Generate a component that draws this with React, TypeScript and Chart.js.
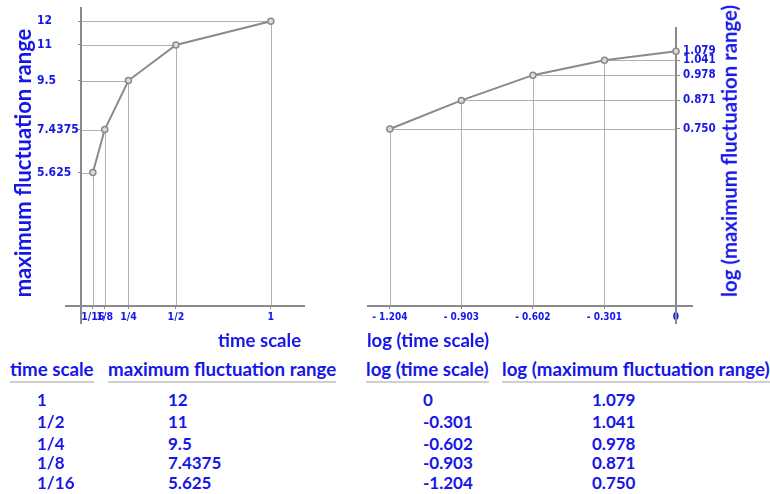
import React, { useEffect, useRef } from 'react';
import { Chart, registerables } from 'chart.js';
Chart.register(...registerables);

const timeScaleLabels = ['1', '1/2', '1/4', '1/8', '1/16'];
const timeScaleValues = [1, 0.5, 0.25, 0.125, 0.0625];
const maxRangeValues = [12, 11, 9.5, 7.4375, 5.625];
const maxRangeLabels = ['12', '11', '9.5', '7.4375', '5.625'];
const logTimeValues = [0, -0.301, -0.602, -0.903, -1.204];
const logTimeLabels = ['0', '-0.301', '-0.602', '-0.903', '-1.204'];
const logRangeValues = [1.079, 1.041, 0.978, 0.871, 0.75];
const logRangeLabels = ['1.079', '1.041', '0.978', '0.871', '0.750'];
const tableHeaders = ['time scale', 'maximum fluctuation range', 'log (time scale)', 'log (maximum fluctuation range)'];
const tableColumns = [timeScaleLabels, maxRangeLabels, logTimeLabels, logRangeLabels];

const BLUE = '#1616e8';
const TEXT_FONT = 'Lato, "Open Sans", sans-serif';
const TICK_FONT = '"DejaVu Sans Condensed", "Liberation Sans", sans-serif';

function makeDecor(id: string, side: 'left' | 'right') {
  return {
    id,
    beforeDatasetsDraw(chart: any) {
      const { ctx, scales, chartArea } = chart;
      const xs = scales.x, ys = scales.y;
      const x0 = Math.round(xs.getPixelForValue(0));
      const y0 = Math.round(ys.getPixelForValue(0));
      ctx.save();
      ctx.strokeStyle = '#b0b0b0';
      ctx.lineWidth = 1;
      chart.data.datasets[0].data.forEach((p: any) => {
        const px = Math.round(xs.getPixelForValue(p.x)) + 0.5;
        const py = Math.round(ys.getPixelForValue(p.y)) + 0.5;
        ctx.beginPath();
        ctx.moveTo(x0, py);
        ctx.lineTo(px, py);
        ctx.moveTo(px, py);
        ctx.lineTo(px, y0);
        ctx.stroke();
      });
      ctx.strokeStyle = '#8a8a8a';
      ctx.lineWidth = 2;
      ctx.beginPath();
      ctx.moveTo(x0, chartArea.top);
      ctx.lineTo(x0, y0 + 18);
      if (side === 'left') {
        ctx.moveTo(x0 - 16, y0);
        ctx.lineTo(chartArea.right, y0);
      } else {
        ctx.moveTo(chartArea.left, y0);
        ctx.lineTo(x0 + 17, y0);
      }
      ctx.stroke();
      ctx.restore();
    },
  };
}

const fixX = (h: number) => (s: any) => { s.height = h; s.paddingLeft = 0; s.paddingRight = 0; };
const fixY = (w: number) => (s: any) => { s.width = w; s.paddingTop = 0; s.paddingBottom = 0; };

const datasetStyle = {
  showLine: true,
  borderColor: '#8a8a8a',
  borderWidth: 2,
  pointRadius: 3,
  pointBorderWidth: 1.5,
  pointBorderColor: '#8a8a8a',
  pointBackgroundColor: '#dcdcdc',
  clip: false,
};

function LeftChart() {
  const ref = useRef<HTMLCanvasElement>(null);
  useEffect(() => {
    const chart = new Chart(ref.current!, {
      type: 'scatter',
      data: {
        datasets: [{
          data: timeScaleValues.map((v, i) => ({ x: v, y: maxRangeValues[i] })),
          ...datasetStyle,
        } as any],
      },
      options: {
        animation: false,
        responsive: false,
        layout: { padding: { left: 37, top: 7, right: 55, bottom: 0 } },
        plugins: { legend: { display: false }, tooltip: { enabled: false } },
        scales: {
          x: {
            type: 'linear', min: 0, max: 1.18,
            afterBuildTicks: (s: any) => { s.ticks = timeScaleValues.map(v => ({ value: v })); },
            afterFit: fixX(39),
            ticks: {
              autoSkip: false, maxRotation: 0, minRotation: 0, padding: 2,
              color: BLUE, font: { family: TICK_FONT, size: 10.5, weight: 'bold' },
              callback: (v: any) => timeScaleLabels[timeScaleValues.indexOf(v)] ?? '',
            },
            grid: { drawOnChartArea: false, drawTicks: true, tickLength: 3, color: '#8a8a8a' },
            border: { display: false },
          },
          y: {
            type: 'linear', min: 0, max: 12.6,
            afterBuildTicks: (s: any) => { s.ticks = maxRangeValues.map(v => ({ value: v })); },
            afterFit: fixY(44),
            ticks: {
              autoSkip: false, crossAlign: 'far', padding: 4,
              color: BLUE, font: { family: TICK_FONT, size: 12, weight: 'bold' },
              callback: (v: any) => maxRangeLabels[maxRangeValues.indexOf(v)] ?? '',
            },
            grid: { drawOnChartArea: false, drawTicks: true, tickLength: 3, color: '#8a8a8a' },
            border: { display: false },
          },
        },
      } as any,
      plugins: [makeDecor('leftDecor', 'left')],
    });
    return () => chart.destroy();
  }, []);
  return <canvas ref={ref} width={360} height={345} style={{ position: 'absolute', left: 0, top: 0, width: 360, height: 345 }} />;
}

function RightChart() {
  const ref = useRef<HTMLCanvasElement>(null);
  useEffect(() => {
    const chart = new Chart(ref.current!, {
      type: 'scatter',
      data: {
        datasets: [{
          data: logTimeValues.map((v, i) => ({ x: v, y: logRangeValues[i] })),
          ...datasetStyle,
        } as any],
      },
      options: {
        animation: false,
        responsive: false,
        layout: { padding: { left: 7, top: 27, right: 0, bottom: 0 } },
        plugins: { legend: { display: false }, tooltip: { enabled: false } },
        scales: {
          x: {
            type: 'linear', min: -1.3, max: 0,
            afterBuildTicks: (s: any) => { s.ticks = logTimeValues.map(v => ({ value: v })); },
            afterFit: fixX(39),
            ticks: {
              autoSkip: false, maxRotation: 0, minRotation: 0, padding: 2,
              color: BLUE, font: { family: TICK_FONT, size: 10, weight: 'bold' },
              callback: (v: any) => (logTimeLabels[logTimeValues.indexOf(v)] ?? '').replace('-', '- '),
            },
            grid: { drawOnChartArea: false, drawTicks: true, tickLength: 3, color: '#8a8a8a' },
            border: { display: false },
          },
          y: {
            type: 'linear', min: 0, max: 1.182, position: 'right',
            afterBuildTicks: (s: any) => { s.ticks = logRangeValues.map(v => ({ value: v })); },
            afterFit: fixY(94),
            ticks: {
              autoSkip: false, padding: 3,
              color: BLUE, font: { family: TICK_FONT, size: 11.5, weight: 'bold' },
              callback: (v: any) => logRangeLabels[logRangeValues.indexOf(v)] ?? '',
            },
            grid: { drawOnChartArea: false, drawTicks: true, tickLength: 4, color: '#8a8a8a' },
            border: { display: false },
          },
        },
      } as any,
      plugins: [makeDecor('rightDecor', 'right')],
    });
    return () => chart.destroy();
  }, []);
  return <canvas ref={ref} width={410} height={345} style={{ position: 'absolute', left: 360, top: 0, width: 410, height: 345 }} />;
}

const textBase: React.CSSProperties = {
  position: 'absolute', fontFamily: TEXT_FONT, fontWeight: 'bold', color: BLUE,
  whiteSpace: 'nowrap', lineHeight: 1,
};

const headerX = [10, 108, 366, 502];
const colX = [37, 168, 423, 592];
const rowY = [399, 421, 443, 462, 482];

export default function App() {
  return (
    <div style={{ position: 'absolute', left: 0, top: 0, width: 770, height: 494, background: '#fff', overflow: 'hidden' }}>
      <LeftChart />
      <RightChart />
      <div style={{ ...textBase, fontSize: 22, left: 23, top: 163, transform: 'translate(-50%, -50%) rotate(-90deg)' }}>maximum fluctuation range</div>
      <div style={{ ...textBase, fontSize: 20.4, left: 729, top: 151, transform: 'translate(-50%, -50%) rotate(-90deg)' }}>log (maximum fluctuation range)</div>
      <div style={{ ...textBase, fontSize: 18.6, left: 218, top: 340, transform: 'translateY(-50%)' }}>time scale</div>
      <div style={{ ...textBase, fontSize: 18.6, left: 367, top: 340, transform: 'translateY(-50%)' }}>log (time scale)</div>
      {tableHeaders.map((h, i) => (
        <div key={h} style={{ ...textBase, fontSize: 18.7, left: headerX[i], top: 360, paddingBottom: 2, borderBottom: '2px solid #d0d0d0' }}>{h}</div>
      ))}
      {tableColumns.map((col, ci) => col.map((t, ri) => (
        <div key={ci + '-' + ri} style={{ ...textBase, fontSize: 17, left: colX[ci], top: rowY[ri], transform: 'translateY(-50%)' }}>{t}</div>
      )))}
    </div>
  );
}
